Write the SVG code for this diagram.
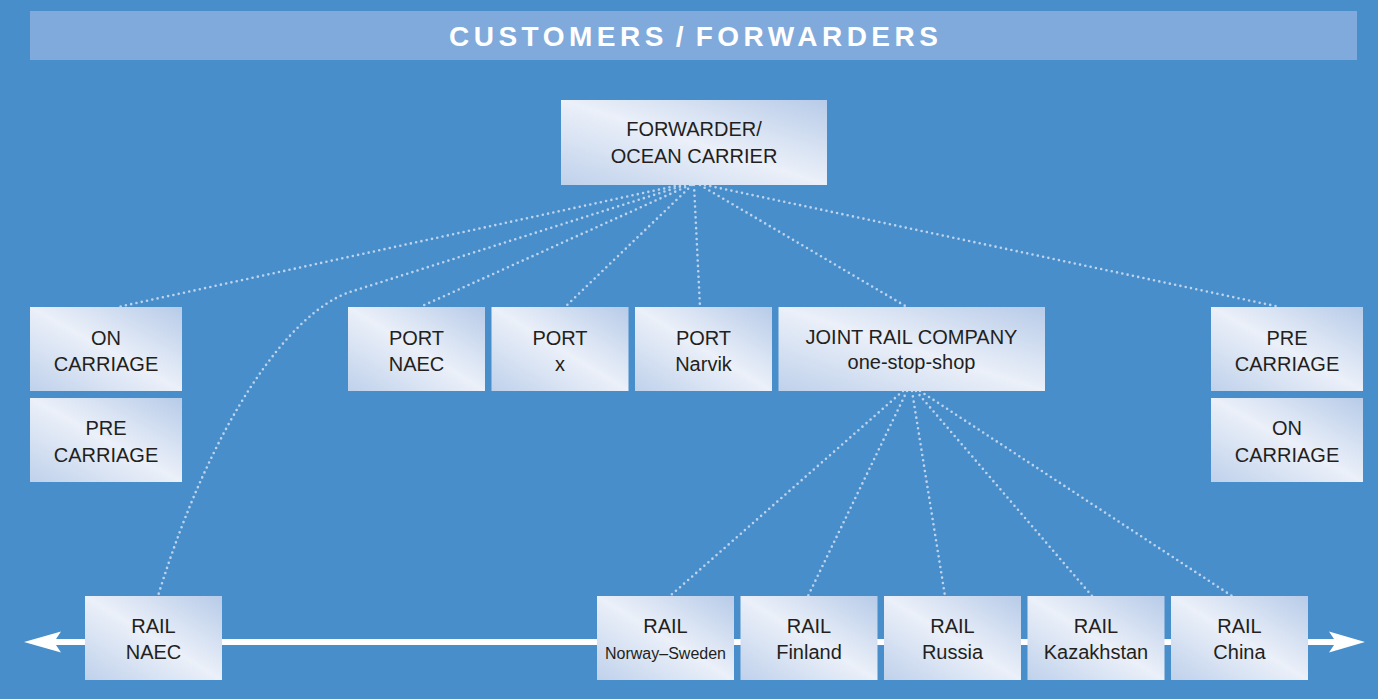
<svg xmlns="http://www.w3.org/2000/svg" width="1378" height="699" viewBox="0 0 1378 699">
<defs>
<linearGradient id="boxg" x1="1" y1="0" x2="0" y2="1">
<stop offset="0" stop-color="#b7cbe8"/>
<stop offset="0.5" stop-color="#ebf0f9"/>
<stop offset="1" stop-color="#bfd1eb"/>
</linearGradient>
<style>
.box{fill:url(#boxg);}
.t{font-family:"Liberation Sans",Arial,sans-serif;font-size:20px;fill:#231f20;text-anchor:middle;}
.s{font-size:16px;}
.dot{fill:none;stroke:#bed3ee;stroke-width:2.6;stroke-linecap:round;stroke-dasharray:0 5.4;}
</style>
</defs>
<rect x="0" y="0" width="1378" height="699" fill="#488ecb"/>
<g id="title">
<rect x="30" y="11" width="1327" height="49" fill="#80aadb"/>
<text x="449" y="46" style="font-family:'Liberation Sans',Arial,sans-serif;font-size:28px;font-weight:bold;fill:#ffffff;letter-spacing:4.5px;word-spacing:-4.5px;">CUSTOMERS / FORWARDERS</text>
</g>
<g id="rail-line">
<rect x="54" y="639" width="1282" height="6" fill="#ffffff"/>
<polygon points="24,642 61,631.5 54,642 61,652.5" fill="#ffffff"/>
<polygon points="1365,642 1329,631.5 1336,642 1329,652.5" fill="#ffffff"/>
</g>
<g id="connectors">
<path class="dot" d="M680,185 L118,307"/>
<path class="dot" d="M685,185 L350,292 C290,312 212,420 158,596"/>
<path class="dot" d="M690,185 L420,307"/>
<path class="dot" d="M692,185 L565,307"/>
<path class="dot" d="M694,185 L700,307"/>
<path class="dot" d="M700,185 L907,307"/>
<path class="dot" d="M705,185 L1280,307"/>
<path class="dot" d="M903,391 L670,596"/>
<path class="dot" d="M907,391 L808,596"/>
<path class="dot" d="M912,391 L945,596"/>
<path class="dot" d="M916,391 L1092,596"/>
<path class="dot" d="M920,391 L1232,596"/>
</g>
<g id="forwarder">
<rect class="box" x="561" y="100" width="266" height="85"/>
<text class="t" x="694" y="136">FORWARDER/</text>
<text class="t" x="694" y="163">OCEAN CARRIER</text>
</g>
<g id="on-carriage-left">
<rect class="box" x="30" y="307" width="152" height="84"/>
<text class="t" x="106" y="345">ON</text>
<text class="t" x="106" y="371">CARRIAGE</text>
</g>
<g id="pre-carriage-left">
<rect class="box" x="30" y="398" width="152" height="84"/>
<text class="t" x="106" y="435">PRE</text>
<text class="t" x="106" y="462">CARRIAGE</text>
</g>
<g id="port-naec">
<rect class="box" x="348" y="307" width="137" height="84"/>
<text class="t" x="416.5" y="345">PORT</text>
<text class="t" x="416.5" y="371">NAEC</text>
</g>
<g id="port-x">
<rect class="box" x="491.5" y="307" width="137" height="84"/>
<text class="t" x="560" y="345">PORT</text>
<text class="t" x="560" y="371">x</text>
</g>
<g id="port-narvik">
<rect class="box" x="635" y="307" width="137" height="84"/>
<text class="t" x="703.5" y="345">PORT</text>
<text class="t" x="703.5" y="371">Narvik</text>
</g>
<g id="joint-rail">
<rect class="box" x="778.5" y="307" width="266.5" height="84"/>
<text class="t" x="911.5" y="344">JOINT RAIL COMPANY</text>
<text class="t" x="911.5" y="369">one-stop-shop</text>
</g>
<g id="pre-carriage-right">
<rect class="box" x="1211" y="307" width="152" height="84"/>
<text class="t" x="1287" y="345">PRE</text>
<text class="t" x="1287" y="371">CARRIAGE</text>
</g>
<g id="on-carriage-right">
<rect class="box" x="1211" y="398" width="152" height="84"/>
<text class="t" x="1287" y="435">ON</text>
<text class="t" x="1287" y="462">CARRIAGE</text>
</g>
<g id="rail-naec">
<rect class="box" x="85" y="596" width="137" height="84"/>
<text class="t" x="153.5" y="633">RAIL</text>
<text class="t" x="153.5" y="659">NAEC</text>
</g>
<g id="rail-norway-sweden">
<rect class="box" x="597" y="596" width="137" height="84"/>
<text class="t" x="665.5" y="633">RAIL</text>
<text class="t s" x="665.5" y="659">Norway–Sweden</text>
</g>
<g id="rail-finland">
<rect class="box" x="740.5" y="596" width="137" height="84"/>
<text class="t" x="809" y="633">RAIL</text>
<text class="t" x="809" y="659">Finland</text>
</g>
<g id="rail-russia">
<rect class="box" x="884" y="596" width="137" height="84"/>
<text class="t" x="952.5" y="633">RAIL</text>
<text class="t" x="952.5" y="659">Russia</text>
</g>
<g id="rail-kazakhstan">
<rect class="box" x="1027.5" y="596" width="137" height="84"/>
<text class="t" x="1096" y="633">RAIL</text>
<text class="t" x="1096" y="659">Kazakhstan</text>
</g>
<g id="rail-china">
<rect class="box" x="1171" y="596" width="137" height="84"/>
<text class="t" x="1239.5" y="633">RAIL</text>
<text class="t" x="1239.5" y="659">China</text>
</g>
</svg>
